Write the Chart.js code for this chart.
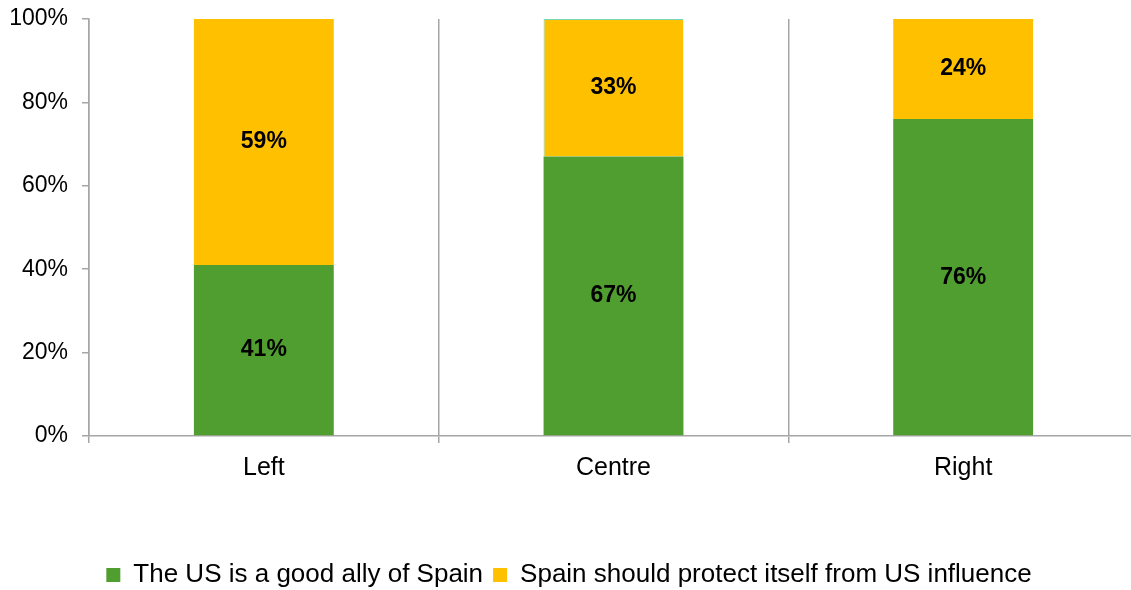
<!DOCTYPE html>
<html>
<head>
<meta charset="utf-8">
<script src="https://cdn.jsdelivr.net/npm/chart.js@4/dist/chart.umd.min.js"></script>
<style>
  html, body { margin: 0; padding: 0; background: #fff; overflow: hidden; }
  #wrap { width: 1138px; height: 590px; }
</style>
</head>
<body>
<div id="wrap"><canvas id="allyChart"></canvas></div>
<script>
// ── Data ──────────────────────────────────────────────────────────────────────
const CATEGORIES = ['Left', 'Centre', 'Right'];
const GOOD_ALLY  = [41, 67, 76];
const PROTECT    = [59, 33, 24];
const Y_TICKS    = [0, 20, 40, 60, 80, 100];

const GREEN  = '#509e2f';
const YELLOW = '#ffc000';
const AXIS   = '#a6a6a6';
const FONT   = "'Liberation Sans', Arial, Helvetica, sans-serif";

// ── Value labels inside each segment ──────────────────────────────────────────
const segmentLabels = {
  id: 'segmentLabels',
  afterDatasetsDraw(chart) {
    const ctx = chart.ctx;
    ctx.save();
    ctx.font = `bold 23px ${FONT}`;
    ctx.fillStyle = '#000';
    ctx.textAlign = 'center';
    ctx.textBaseline = 'middle';
    chart.data.datasets.forEach((ds, i) => {
      chart.getDatasetMeta(i).data.forEach((bar, j) => {
        const p = bar.getCenterPoint();
        ctx.fillText(ds.data[j] + '%', p.x, p.y);
      });
    });
    ctx.restore();
  },
};

new Chart(document.getElementById('allyChart'), {
  type: 'bar',
  data: {
    labels: CATEGORIES,
    datasets: [
      {
        label: 'The US is a good ally of Spain',
        data: GOOD_ALLY,
        backgroundColor: GREEN,
        borderWidth: 0,
      },
      {
        label: 'Spain should protect itself from US influence',
        data: PROTECT,
        backgroundColor: YELLOW,
        // thin edge on the Centre segment
        borderColor: '#74d6b4',
        borderWidth: c => c.dataIndex === 1 ? { top: 1, left: 1, right: 0, bottom: 0 } : 0,
        borderSkipped: false,
      },
    ],
  },
  options: {
    responsive: true,
    maintainAspectRatio: false,
    animation: false,
    layout: { padding: { top: 19, left: 0, right: 0, bottom: -8 } },
    datasets: { bar: { categoryPercentage: 0.4, barPercentage: 1 } },
    plugins: {
      tooltip: { enabled: false },
      legend: {
        position: 'bottom',
        labels: {
          color: '#000',
          font: { family: FONT, size: 26 },
          boxWidth: 14,
          boxHeight: 14,
          padding: 10,
        },
      },
    },
    scales: {
      x: {
        stacked: true,
        offset: true,
        afterFit: s => { s.height = 116; },
        border: { color: AXIS, width: 1.5 },
        grid: { color: AXIS, lineWidth: 1.5, offset: true, tickLength: 7, drawOnChartArea: true },
        ticks: { color: '#000', font: { family: FONT, size: 25 }, padding: 10 },
      },
      y: {
        stacked: true,
        min: 0,
        max: 100,
        afterFit: s => { s.width = 89; s.paddingTop = 0; s.paddingBottom = 0; },
        afterBuildTicks: s => { s.ticks = Y_TICKS.map(v => ({ value: v })); },
        border: { color: AXIS, width: 1.5 },
        grid: { color: AXIS, lineWidth: 1.5, drawOnChartArea: false, tickLength: 7 },
        ticks: {
          color: '#000',
          font: { family: FONT, size: 23 },
          padding: 14,
          callback: v => v + '%',
        },
      },
    },
  },
  plugins: [segmentLabels],
});
</script>
</body>
</html>
